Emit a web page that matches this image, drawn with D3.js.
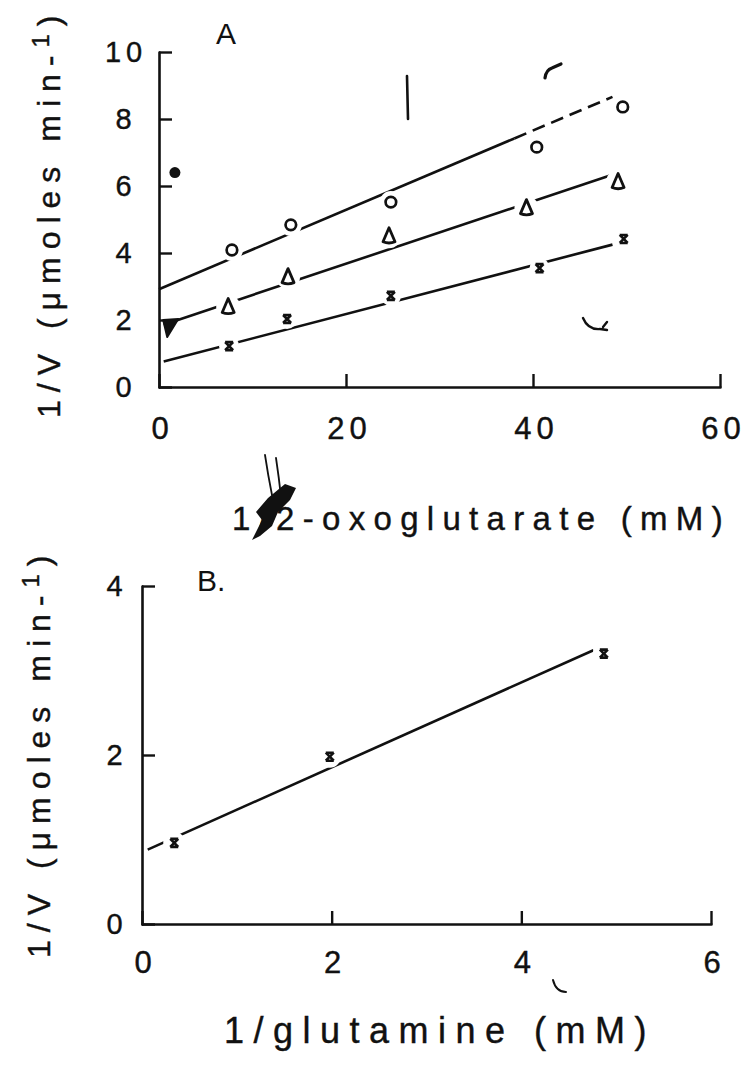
<!DOCTYPE html>
<html>
<head>
<meta charset="utf-8">
<script src="https://cdn.jsdelivr.net/npm/d3@7"></script>
<style>
  html, body { margin: 0; padding: 0; background: #fff; }
  svg { display: block; }
  text { font-family: "Liberation Sans", Arial, Helvetica, sans-serif; fill: #111; }
</style>
</head>
<body>
<svg id="chart" width="751" height="1078"></svg>
<script>
// ---- Panel A: 1/V against 1/[2-oxoglutarate] at three glutamine levels ----
const oxoTicks = [0, 20, 40, 60];
const rateTicksA = [0, 2, 4, 6, 8, 10];

const circleX = [7.8, 14.1, 24.8, 40.4, 49.6];
const circleY = [4.09, 4.84, 5.52, 7.16, 8.36];
const triangleX = [7.4, 13.8, 24.6, 39.3, 49.1];
const triangleY = [2.39, 3.28, 4.5, 5.34, 6.12];
const crossX = [7.5, 13.7, 24.8, 40.7, 49.7];
const crossY = [1.22, 2.03, 2.72, 3.55, 4.42];

// fitted lines as [x, 1/V] end points; the circle line turns dashed after its middle point
const circleFit = [[0, 2.92], [38, 7.42], [48.5, 8.66]];
const triangleFit = [[0.5, 1.86], [48.4, 6.33]];
const crossFit = [[0.5, 0.76], [48.5, 4.25]];

// filled symbols sitting on the axis
const filledTriangle = [[1.2, 1.76]];
const filledDot = [[1.7, 6.4]];

// ---- Panel B: 1/V against 1/[glutamine] ----
const glnTicks = [0, 2, 4, 6];
const rateTicksB = [0, 2, 4];
const glnX = [0.34, 1.98, 4.87];
const glnY = [0.96, 1.98, 3.2];
const glnFit = [[0.06, 0.88], [4.76, 3.24]];

const INK = "#111";
const svg = d3.select("#chart");

const xA = d3.scaleLinear().domain([0, 60]).range([159, 720]);
const yA = d3.scaleLinear().domain([0, 10]).range([387, 52]);
const xB = d3.scaleLinear().domain([0, 6]).range([142, 711]);
const yB = d3.scaleLinear().domain([0, 4]).range([924, 586]);

const intFmt = d3.format("d");

function styleAxis(g, fontSize) {
  g.select(".domain").attr("stroke", INK).attr("stroke-width", 2.6).attr("stroke-linecap", "round");
  g.selectAll(".tick line").attr("stroke", INK).attr("stroke-width", 2.4);
  g.selectAll(".tick text")
    .attr("fill", INK)
    .attr("stroke", INK)
    .attr("stroke-width", 0.4)
    .style("font-size", fontSize + "px")
    .style("letter-spacing", "5px")
    .attr("font-family", null);
}

function drawAxes(x, y, xTicks, yTicks, yLabelOffset, xLabelGap) {
  const gx = svg.append("g")
    .attr("transform", `translate(0,${y(0)})`)
    .call(d3.axisBottom(x).tickValues(xTicks).tickFormat(intFmt)
      .tickSize(-13).tickSizeOuter(0).tickPadding(xLabelGap));
  styleAxis(gx, 31);
  gx.selectAll(".tick text").attr("dx", "3px");

  const gy = svg.append("g")
    .attr("transform", `translate(${x(0)},0)`)
    .call(d3.axisLeft(y).tickValues(yTicks).tickFormat(intFmt)
      .tickSize(-13).tickSizeOuter(0).tickPadding(yLabelOffset));
  styleAxis(gy, 29);
  gy.selectAll(".tick text").attr("text-anchor", "middle").attr("dx", "2px");
}

function line(x, y, pts, dashed) {
  svg.append("path")
    .datum(pts)
    .attr("d", d3.line().x(d => x(d[0])).y(d => y(d[1])))
    .attr("fill", "none")
    .attr("stroke", INK)
    .attr("stroke-width", 2.6)
    .attr("stroke-dasharray", dashed ? "13,7" : null);
}

function halo(x, y, xs, ys, r) {
  svg.append("g").selectAll("circle")
    .data(d3.zip(xs, ys))
    .join("circle")
    .attr("cx", d => x(d[0]))
    .attr("cy", d => y(d[1]))
    .attr("r", r)
    .attr("fill", "#fff");
}

function circles(x, y, xs, ys) {
  svg.append("g").selectAll("circle")
    .data(d3.zip(xs, ys))
    .join("circle")
    .attr("cx", d => x(d[0]))
    .attr("cy", d => y(d[1]))
    .attr("r", 5.3)
    .attr("fill", "#fff")
    .attr("stroke", INK)
    .attr("stroke-width", 2.7);
}

function triangles(x, y, xs, ys) {
  svg.append("g").selectAll("path")
    .data(d3.zip(xs, ys))
    .join("path")
    .attr("transform", d => `translate(${x(d[0])},${y(d[1])})`)
    .attr("d", "M0,-8.5 L6,5.5 Q0,8 -6,5.5 Z")
    .attr("fill", "#fff")
    .attr("stroke", INK)
    .attr("stroke-width", 2.8)
    .attr("stroke-linejoin", "round");
}

function crosses(x, y, xs, ys) {
  svg.append("g").selectAll("path")
    .data(d3.zip(xs, ys))
    .join("path")
    .attr("transform", d => `translate(${x(d[0])},${y(d[1])})`)
    .attr("d", "M-4,-4 L4,4 M4,-4 L-4,4 M-4,-4 H4 M-4,4 H4")
    .attr("fill", "none")
    .attr("stroke", INK)
    .attr("stroke-width", 2.6);
}

// ---------- Panel A ----------
drawAxes(xA, yA, oxoTicks, rateTicksA, 35, 30);

line(xA, yA, circleFit.slice(0, 2), false);
line(xA, yA, circleFit.slice(1), true);
line(xA, yA, triangleFit, false);
line(xA, yA, crossFit, false);

halo(xA, yA, circleX, circleY, 11);
halo(xA, yA, triangleX, triangleY, 12);
halo(xA, yA, crossX, crossY, 10);

circles(xA, yA, circleX, circleY);
triangles(xA, yA, triangleX, triangleY);
crosses(xA, yA, crossX, crossY);

svg.append("g").selectAll("path")
  .data(filledTriangle)
  .join("path")
  .attr("transform", d => `translate(${xA(d[0])},${yA(d[1])})`)
  .attr("d", "M-7,-8 L8,-9 L-3,9 Z")
  .attr("fill", INK)
  .attr("stroke", INK)
  .attr("stroke-width", 2)
  .attr("stroke-linejoin", "round");

svg.append("g").selectAll("circle")
  .data(filledDot)
  .join("circle")
  .attr("cx", d => xA(d[0]))
  .attr("cy", d => yA(d[1]))
  .attr("r", 5.5)
  .attr("fill", INK);

svg.append("text")
  .attr("x", 226).attr("y", 44)
  .attr("text-anchor", "middle")
  .style("font-size", "30px")
  .text("A");

// y title, panel A
const yTitleA = svg.append("text")
  .attr("transform", "translate(60,418) rotate(-90)")
  .attr("stroke", INK).attr("stroke-width", 0.4)
  .style("font-size", "32px")
  .style("letter-spacing", "8px");
yTitleA.append("tspan").text("1/V (μmoles min-");
yTitleA.append("tspan").attr("dy", "-11").style("font-size", "24px").text("1");
yTitleA.append("tspan").attr("dy", "11").text(")");

// x title, panel A
svg.append("text")
  .attr("x", 232).attr("y", 530)
  .attr("stroke", INK).attr("stroke-width", 0.4)
  .style("font-size", "33px")
  .style("letter-spacing", "8.3px")
  .text("1/2-oxoglutarate (mM)");

// ---------- Panel B ----------
drawAxes(xB, yB, glnTicks, rateTicksB, 27, 27);

line(xB, yB, glnFit, false);
halo(xB, yB, glnX, glnY, 11);
crosses(xB, yB, glnX, glnY);

svg.append("text")
  .attr("x", 197).attr("y", 591)
  .style("font-size", "30px")
  .text("B.");

const yTitleB = svg.append("text")
  .attr("transform", "translate(50,958) rotate(-90)")
  .attr("stroke", INK).attr("stroke-width", 0.4)
  .style("font-size", "32px")
  .style("letter-spacing", "8px");
yTitleB.append("tspan").text("1/V (μmoles min-");
yTitleB.append("tspan").attr("dy", "-11").style("font-size", "24px").text("1");
yTitleB.append("tspan").attr("dy", "11").text(")");

svg.append("text")
  .attr("x", 224).attr("y", 1043)
  .attr("stroke", INK).attr("stroke-width", 0.4)
  .style("font-size", "36px")
  .style("letter-spacing", "9.5px")
  .text("1/glutamine (mM)");

// ---------- stray ink on the printed sheet ----------
const specks = svg.append("g").attr("fill", "none").attr("stroke", INK).attr("stroke-linecap", "round");
specks.append("path").attr("d", "M407,76 L408,119").attr("stroke-width", 2.6);
specks.append("path").attr("d", "M545,78 Q546,70 552,68 L561,64").attr("stroke-width", 3.2);
specks.append("path").attr("d", "M583,318 Q588,330 600,329 L607,330 M603,327 L607,322").attr("stroke-width", 2.4);
specks.append("path").attr("d", "M553,980 Q556,992 566,992").attr("stroke-width", 2);
specks.append("path").attr("d", "M265,455 Q268,475 272,495 M276,458 Q279,478 281,497").attr("stroke-width", 1.8);
svg.append("path")
  .attr("d", "M252,540 L262,520 L256,512 L268,498 L285,484 L296,488 L290,500 L278,512 L272,526 L260,536 Z")
  .attr("fill", INK);
</script>
</body>
</html>
